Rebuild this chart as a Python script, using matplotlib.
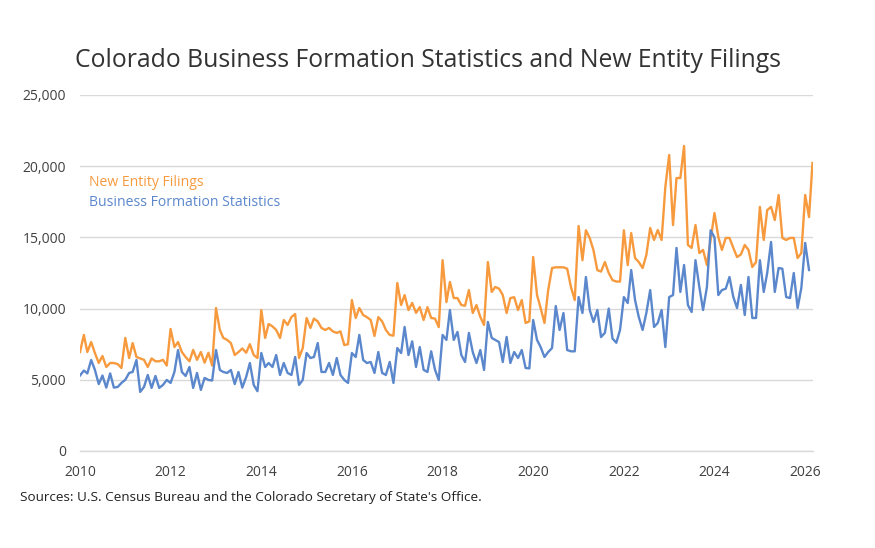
import matplotlib.pyplot as plt
import matplotlib.dates as mdates
import pandas as pd
from matplotlib.ticker import FuncFormatter

plt.rcParams['font.family'] = ['Open Sans', 'DejaVu Sans']

# monthly values, Jan 2010 onwards
new_entity_filings = [
    # 2010
    6950, 8150, 6950, 7650, 6880, 6180, 6670, 5900, 6180, 6180, 6100, 5830,
    # 2011
    7940, 6530, 7580, 6600, 6500, 6400, 5900, 6500, 6300, 6300, 6400, 6000,
    # 2012
    8570, 7300, 7650, 6950, 6600, 6300, 7100, 6400, 6950, 6200, 6900, 6000,
    # 2013
    10040, 8500, 7940, 7800, 7580, 6740, 6950, 7200, 6900, 7500, 6740, 6530,
    # 2014
    9900, 7940, 8920, 8750, 8500, 7940, 9200, 8850, 9410, 9620, 6530, 7230,
    # 2015
    9340, 8640, 9300, 9100, 8640, 8500, 8640, 8400, 8290, 8400, 7440, 7500,
    # 2016
    10600, 9340, 10040, 9550, 9400, 9200, 8080, 9400, 9100, 8500, 8150, 8100,
    # 2017
    11800, 10250, 10950, 9900, 10400, 9700, 10100, 9200, 10100, 9340, 9300, 8700,
    # 2018
    13400, 10460, 11870, 10740, 10740, 10250, 10200, 11300, 9690, 10250, 9410, 8850,
    # 2019
    13270, 11170, 11520, 11400, 10950, 9690, 10740, 10800, 9900, 10600, 8990, 9100,
    # 2020
    13620, 10950, 10040, 8990, 11300, 12850, 12900, 12900, 12900, 12800, 11500, 10600,
    # 2021
    15800, 13400, 15500, 14950, 14100, 12700, 12600, 13270, 12500, 12000, 11900, 11900,
    # 2022
    15500, 13050, 15300, 13550, 13270, 12850, 13760, 15660, 14820, 15520, 14820, 18540,
    # 2023
    20790, 15870, 19170, 19170, 21420, 14470, 14260, 15870, 13900, 14120, 13060, 14820,
    # 2024
    16710, 15030, 14120, 14960, 14960, 14260, 13620, 13800, 14470, 14120, 12920, 13270,
    # 2025
    17140, 14820, 16920, 17140, 16220, 17980, 14960, 14820, 14960, 14960, 13550, 13900,
    # 2026
    17980, 16430, 20230,
]

business_formation = [
    # 2010
    5300, 5650, 5450, 6390, 5700, 4700, 5300, 4450, 5450, 4450, 4500, 4780,
    # 2011
    5000, 5480, 5550, 6390, 4150, 4500, 5340, 4430, 5270, 4430, 4640, 4990,
    # 2012
    4780, 5550, 7090, 5550, 5270, 5900, 4430, 5480, 4290, 5130, 4990, 4950,
    # 2013
    7090, 5690, 5550, 5480, 5690, 4700, 5550, 4450, 5200, 6180, 4640, 4200,
    # 2014
    6880, 5900, 6180, 5900, 6740, 5340, 6180, 5480, 5340, 6600, 4640, 4990,
    # 2015
    6880, 6530, 6600, 7580, 5550, 5550, 6180, 5340, 6530, 5340, 4990, 4780,
    # 2016
    6880, 6600, 8150, 6390, 6180, 6250, 5480, 6950, 5480, 5340, 6250, 4780,
    # 2017
    7230, 6880, 8710, 6740, 7700, 5900, 7300, 5700, 5550, 7000, 5700, 4990,
    # 2018
    8150, 7800, 9900, 7800, 8360, 6740, 6250, 8290, 6950, 6180, 7090, 5690,
    # 2019
    9060, 7940, 7800, 7650, 6250, 8010, 6180, 6950, 6530, 7090, 5830, 5800,
    # 2020
    9200, 7800, 7300, 6600, 6950, 7230, 10180, 8500, 9690, 7090, 7000, 7000,
    # 2021
    10810, 9690, 12220, 9900, 9060, 9900, 8000, 8300, 10000, 7900, 7600, 8500,
    # 2022
    10810, 10390, 12710, 10600, 9410, 8500, 9690, 11300, 8710, 8990, 9900, 7300,
    # 2023
    10810, 10950, 14260, 11170, 13060, 10250, 9760, 13400, 11520, 9900, 11500, 15500,
    # 2024
    15000, 10950, 11300, 11400, 12220, 10810, 10040, 11660, 9550, 12220, 9340, 9340,
    # 2025
    13400, 11170, 12500, 14680, 11170, 12850, 12800, 10810, 10740, 12500, 10040, 11450,
    # 2026
    14610, 12710,
]

y_ticks = [0, 5000, 10000, 15000, 20000, 25000]
x_tick_years = [2010, 2012, 2014, 2016, 2018, 2020, 2022, 2024, 2026]

ORANGE = '#F79A3E'
BLUE = '#5B87CC'
GRID = '#D9D9D9'
TEXT = '#404040'


def main():
    nef_dates = pd.date_range('2010-01-01', periods=len(new_entity_filings), freq='MS')
    bfs_dates = pd.date_range('2010-01-01', periods=len(business_formation), freq='MS')

    fig = plt.figure(figsize=(8.75, 5.48), dpi=100)
    ax = fig.add_axes([80 / 875, 1 - 451 / 548, 732.5 / 875, 356 / 548])

    ax.plot(nef_dates, new_entity_filings, color=ORANGE, linewidth=1.7, zorder=3)
    ax.plot(bfs_dates, business_formation, color=BLUE, linewidth=1.7, zorder=3)

    ax.set_ylim(0, 25000)
    ax.set_yticks(y_ticks)
    ax.yaxis.set_major_formatter(FuncFormatter(lambda v, _: f'{int(v):,}'))
    ax.set_xlim(nef_dates[0], nef_dates[-1])
    ax.set_xticks([pd.Timestamp(f'{y}-01-01') for y in x_tick_years])
    ax.xaxis.set_major_formatter(mdates.DateFormatter('%Y'))

    ax.grid(axis='y', color=GRID, linewidth=1.0, zorder=0)
    for side in ['top', 'right', 'left']:
        ax.spines[side].set_visible(False)
    ax.spines['bottom'].set_color(GRID)
    ax.spines['bottom'].set_linewidth(1.0)
    ax.tick_params(axis='both', length=0, labelsize=10, colors=TEXT)
    ax.tick_params(axis='y', pad=10)
    ax.tick_params(axis='x', pad=10)

    fig.text(75 / 875, 1 - 67 / 548,
             'Colorado Business Formation Statistics and New Entity Filings',
             fontsize=17.8, color='#333333', va='baseline', ha='left')

    fig.text(89 / 875, 1 - 183 / 548, 'New Entity Filings',
             fontsize=10.1, color=ORANGE, va='center', ha='left')
    fig.text(89 / 875, 1 - 203 / 548, 'Business Formation Statistics',
             fontsize=10.1, color=BLUE, va='center', ha='left')

    fig.text(20 / 875, 1 - 497 / 548,
             "Sources: U.S. Census Bureau and the Colorado Secretary of State's Office.",
             fontsize=9.7, color='#222222', va='center', ha='left')

    fig.savefig('out.png', dpi=100)


if __name__ == '__main__':
    main()
